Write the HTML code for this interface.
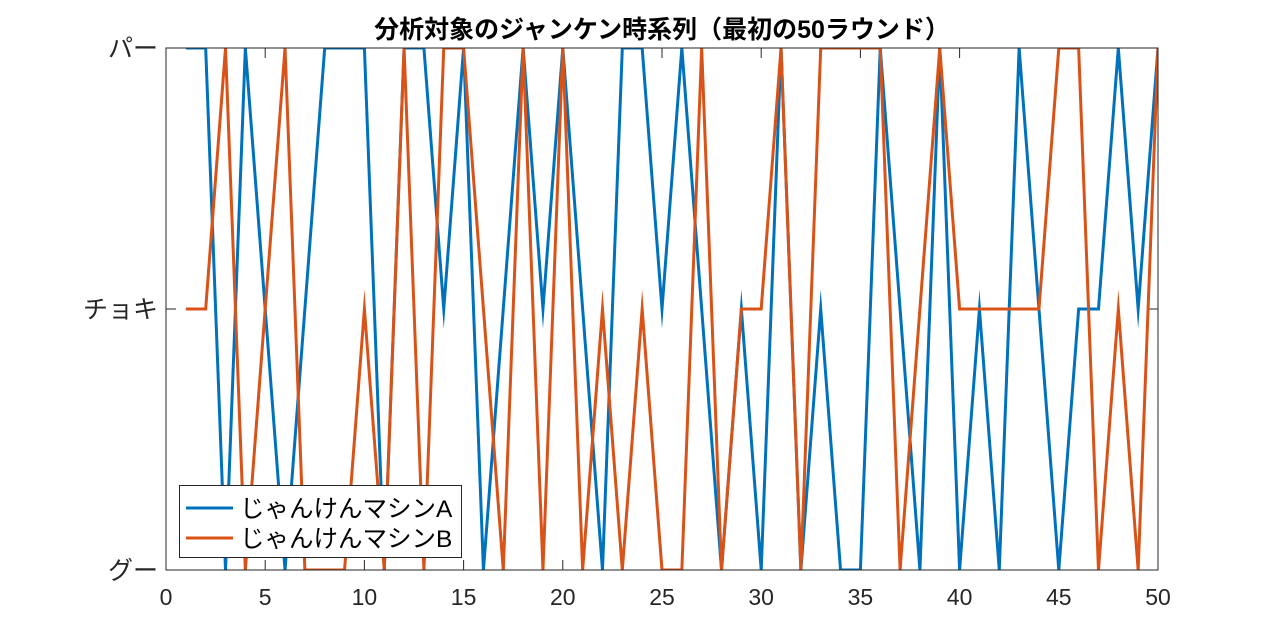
<!DOCTYPE html>
<html><head><meta charset="utf-8"><style>
body{margin:0;background:#fff;}
svg{display:block;font-family:"Liberation Sans","Noto Sans CJK JP",sans-serif;}
</style></head><body>
<svg id="chart" width="1280" height="640">
<defs><clipPath id="clip"><rect x="166" y="48" width="992" height="522"/></clipPath></defs>
</svg>
<script>
const rounds = Array.from({length:50},(_,i)=>i+1);
const machineA = [2,2,0,2,1,0,1,2,2,2,0,2,2,1,2,0,1,2,1,2,1,0,2,2,1,2,1,0,1,0,2,0,1,0,0,2,1,0,2,0,1,0,2,1,0,1,1,2,1,2];
const machineB = [1,1,2,0,1,2,0,0,0,1,0,2,0,2,2,1,0,2,0,2,0,1,0,1,0,0,2,0,1,1,2,0,2,2,2,2,0,1,2,1,1,1,1,1,2,2,0,1,0,2];
const xTicks = [0,5,10,15,20,25,30,35,40,45,50];
const yTickValues = [0,1,2];
const yTickLabels = ['グー','チョキ','パー'];
const seriesNames = ['じゃんけんマシンA','じゃんけんマシンB'];

const L=166,R=1158,T=48,B=570;
const xs=v=>L+(v-0)/(50-0)*(R-L);
const ys=v=>B-(v-0)/(2-0)*(B-T);
const NS='http://www.w3.org/2000/svg';
const svg=document.getElementById('chart');
function mk(tag,attrs,parent){const e=document.createElementNS(NS,tag);for(const k in attrs)e.setAttribute(k,attrs[k]);(parent||svg).appendChild(e);return e;}

const title=mk('text',{x:(L+R)/2,y:38,'text-anchor':'middle','font-size':25,'font-weight':'bold',fill:'#000'});
title.textContent='分析対象のジャンケン時系列（最初の50ラウンド）';



xTicks.forEach(t=>{
  const x=xs(t);
  const tk=mk('path',{d:`M${x},${B}v-10M${x},${T}v10`,stroke:'#262626','stroke-width':1});
  
  
  const lb=mk('text',{x:x,y:605,'text-anchor':'middle','font-size':23,fill:'#262626'});
  lb.textContent=t;
  
  
});
yTickValues.forEach((v,i)=>{
  const y=ys(v);
  const tk=mk('path',{d:`M${L},${y}h10M${R},${y}h-10`,stroke:'#262626','stroke-width':1});
  
  
  const lb=mk('text',{x:158,y:y+9,'text-anchor':'end','font-size':25,fill:'#262626'});
  lb.textContent=yTickLabels[i];
  
  
});

const colors=['#0072BD','#D95319'];
const plotG=mk('g',{'clip-path':'url(#clip)'});
[machineA,machineB].forEach((s,k)=>{
  const d=s.map((v,i)=>(i?'L':'M')+xs(rounds[i])+','+ys(v)).join('');
  const p=mk('path',{d:d,fill:'none',stroke:colors[k],'stroke-width':3,'stroke-linejoin':'miter','stroke-miterlimit':20},plotG);
  
  
});

const box=mk('rect',{x:L,y:T,width:R-L,height:B-T,fill:'none',stroke:'#262626','stroke-width':1});



const lg=mk('g',{});


mk('rect',{x:179.5,y:485.5,width:282,height:72,fill:'#fff',stroke:'#262626','stroke-width':1},lg);
seriesNames.forEach((n,k)=>{
  const y=508+k*30;
  const ln=mk('line',{x1:186,x2:233,y1:y,y2:y,stroke:colors[k],'stroke-width':3},lg);
  
  
  const t=mk('text',{x:240,y:y+9,'font-size':24.5,fill:'#000'},lg);
  t.textContent=n;
  
  
});
</script>
</body></html>
